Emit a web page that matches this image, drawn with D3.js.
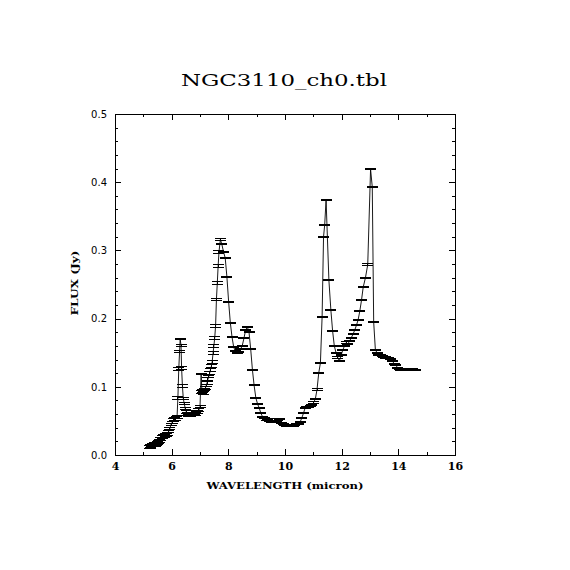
<!DOCTYPE html>
<html>
<head>
<meta charset="utf-8">
<script src="https://cdn.jsdelivr.net/npm/d3@7"></script>
<style>
	body { margin:0; background:#ffffff; }
	svg { display:block; }
</style>
</head>
<body>
<div id="chart"></div>
<script>
	// spectrum: wavelength (micron), flux (Jy), 1-sigma error (Jy)
	var wavelength = [
		5.21,5.24,5.27,5.30,5.33,5.36,5.39,5.42,5.45,5.48,5.51,5.54,5.58,5.62,5.66,5.70,5.74,5.78,5.82,5.86,
		5.90,5.94,5.98,6.02,6.06,6.10,6.13,6.16,6.19,6.22,6.25,6.28,6.30,6.33,6.35,6.38,6.41,6.44,6.48,6.52,
		6.56,6.60,6.64,6.68,6.72,6.76,6.80,6.84,6.88,6.92,6.96,7.00,7.04,7.07,7.10,7.13,7.16,7.19,7.22,7.25,
		7.28,7.31,7.34,7.37,7.40,7.43,7.46,7.49,7.52,7.55,7.58,7.61,7.64,7.67,7.72,7.77,
		7.83,7.89,7.95,8.01,8.07,8.13,8.19,8.25,8.31,8.37,8.43,8.49,8.55,8.61,8.67,8.73,8.79,8.85,8.91,8.97,
		9.03,9.09,9.15,9.21,9.27,9.33,9.39,9.45,9.51,9.57,9.63,9.69,9.75,9.81,9.87,9.93,9.99,10.05,10.11,10.17,
		10.23,10.29,10.35,10.41,10.47,10.53,10.59,10.65,10.71,10.77,10.83,10.89,10.95,11.01,11.07,11.13,11.19,11.25,11.31,11.36,
		11.40,11.45,11.55,11.62,11.68,11.74,11.80,11.86,11.92,11.98,12.04,12.10,12.16,12.22,12.28,12.34,12.40,12.46,12.52,12.58,
		12.64,12.70,12.76,12.84,12.92,13.02,13.08,13.13,13.19,13.25,13.31,13.37,13.43,13.49,13.55,13.61,13.67,13.73,13.79,13.85,
		13.91,13.97,14.03,14.09,14.15,14.21,14.27,14.33,14.39,14.45,14.51,14.57,14.62
	];
	var flux = [
		0.012,0.013,0.012,0.014,0.015,0.014,0.016,0.015,0.017,0.016,0.018,0.019,0.021,0.024,0.026,0.028,0.028,0.029,0.029,0.031,
		0.035,0.039,0.045,0.048,0.051,0.053,0.052,0.055,0.056,0.084,0.126,0.152,0.170,0.161,0.128,0.101,0.083,0.076,0.068,0.063,
		0.060,0.058,0.059,0.058,0.060,0.059,0.061,0.060,0.062,0.063,0.066,0.071,0.119,0.092,0.094,0.091,0.096,0.098,0.102,0.106,
		0.111,0.115,0.120,0.125,0.130,0.137,0.149,0.160,0.172,0.189,0.228,0.252,0.277,0.298,0.316,0.309,
		0.298,0.289,0.261,0.225,0.194,0.173,0.158,0.152,0.150,0.151,0.155,0.160,0.171,0.183,0.188,0.180,0.155,0.125,0.102,0.084,
		0.075,0.069,0.061,0.056,0.054,0.052,0.051,0.050,0.049,0.049,0.048,0.050,0.052,0.053,0.047,0.045,0.044,0.043,0.043,0.042,
		0.043,0.043,0.044,0.045,0.046,0.048,0.054,0.061,0.069,0.070,0.071,0.072,0.073,0.077,0.082,0.096,0.120,0.135,0.203,0.320,
		0.337,0.374,0.256,0.212,0.182,0.160,0.150,0.143,0.138,0.146,0.154,0.160,0.165,0.163,0.167,0.172,0.177,0.183,0.190,0.198,
		0.211,0.227,0.246,0.260,0.279,0.419,0.393,0.195,0.154,0.150,0.147,0.146,0.145,0.144,0.143,0.142,0.142,0.141,0.138,0.134,
		0.132,0.128,0.126,0.124,0.124,0.125,0.126,0.126,0.126,0.125,0.126,0.125,0.125
	];
	var fluxErr = [
		0.0022,0.0021,0.0022,0.0021,0.0022,0.0020,0.0021,0.0022,0.0020,0.0021,0.0020,0.0021,0.0020,0.0021,0.0020,0.0021,0.0020,0.0021,0.0020,0.0021,
		0.0016,0.0017,0.0016,0.0017,0.0018,0.0017,0.0018,0.0017,0.0018,0.0020,0.0021,0.0012,0.0010,0.0012,0.0021,0.0019,0.0018,0.0017,0.0018,0.0017,
		0.0018,0.0017,0.0018,0.0017,0.0018,0.0017,0.0018,0.0017,0.0018,0.0017,0.0018,0.0019,0.0012,0.0020,0.0019,0.0020,0.0019,0.0020,0.0021,0.0020,
		0.0021,0.0020,0.0021,0.0022,0.0021,0.0022,0.0021,0.0022,0.0021,0.0022,0.0021,0.0022,0.0021,0.0021,0.0020,0.0008,
		0.0009,0.0008,0.0008,0.0008,0.0008,0.0008,0.0008,0.0008,0.0009,0.0008,0.0008,0.0008,0.0008,0.0009,0.0008,0.0008,0.0008,0.0008,0.0008,0.0008,
		0.0008,0.0008,0.0008,0.0008,0.0008,0.0008,0.0008,0.0008,0.0008,0.0008,0.0008,0.0008,0.0008,0.0008,0.0008,0.0008,0.0008,0.0008,0.0008,0.0008,
		0.0008,0.0008,0.0008,0.0008,0.0008,0.0008,0.0008,0.0008,0.0008,0.0008,0.0008,0.0008,0.0008,0.0008,0.0008,0.0008,0.0008,0.0008,0.0008,0.0008,
		0.0009,0.0008,0.0008,0.0008,0.0008,0.0008,0.0008,0.0008,0.0008,0.0008,0.0008,0.0008,0.0008,0.0008,0.0008,0.0008,0.0008,0.0008,0.0008,0.0008,
		0.0008,0.0008,0.0008,0.0008,0.0013,0.0008,0.0008,0.0008,0.0008,0.0008,0.0008,0.0008,0.0008,0.0008,0.0008,0.0008,0.0008,0.0008,0.0008,0.0008,
		0.0008,0.0008,0.0008,0.0008,0.0008,0.0008,0.0008,0.0008,0.0008,0.0008,0.0008,0.0008,0.0008
	];

	var xMajor = [4, 6, 8, 10, 12, 14, 16];
	var xMinor = [5, 7, 9, 11, 13, 15];
	var yMajor = [0, 0.1, 0.2, 0.3, 0.4, 0.5];
	var yMinor = [0.02,0.04,0.06,0.08,0.12,0.14,0.16,0.18,0.22,0.24,0.26,0.28,0.32,0.34,0.36,0.38,0.42,0.44,0.46,0.48];

	var titleText = "NGC3110_ch0.tbl";
	var xTitle = "WAVELENGTH (micron)";
	var yTitle = "FLUX (Jy)";

	var W = 570, H = 570;
	// plot box (window.top is read-only, so no bare "top" here)
	var boxL = 115, boxR = 455, boxT = 114, boxB = 455;
	var capHalf = 5.5;

	var svg = d3.select("#chart").append("svg")
		.attr("width", W)
		.attr("height", H);
	svg.append("rect").attr("width", W).attr("height", H).attr("fill", "#ffffff");

	var x = d3.scaleLinear().domain([4, 16]).range([boxL, boxR]);
	var y = d3.scaleLinear().domain([0, 0.5]).range([boxB, boxT]);

	function styleAxis(g)
	{
		g.select(".domain").remove();
		g.selectAll(".tick line").attr("stroke", "#000").attr("stroke-width", 1).attr("shape-rendering", "crispEdges");
	}

	// minor ticks first, all four sides
	svg.append("g").attr("transform", "translate(0," + boxB + ")")
		.call(d3.axisBottom(x).tickValues(xMinor).tickSize(-3).tickFormat(""))
		.call(styleAxis);
	svg.append("g").attr("transform", "translate(0," + boxT + ")")
		.call(d3.axisTop(x).tickValues(xMinor).tickSize(-3).tickFormat(""))
		.call(styleAxis);
	svg.append("g").attr("transform", "translate(" + boxL + ",0)")
		.call(d3.axisLeft(y).tickValues(yMinor).tickSize(-3).tickFormat(""))
		.call(styleAxis);
	svg.append("g").attr("transform", "translate(" + boxR + ",0)")
		.call(d3.axisRight(y).tickValues(yMinor).tickSize(-3).tickFormat(""))
		.call(styleAxis);

	// major ticks + labels
	var xb = svg.append("g").attr("transform", "translate(0," + boxB + ")")
		.call(d3.axisBottom(x).tickValues(xMajor).tickSize(-6).tickPadding(7).tickFormat(d3.format("d")))
		.call(styleAxis);
	xb.selectAll(".tick text")
		.attr("fill", "#000")
		.attr("font-family", "'DejaVu Serif', serif")
		.attr("font-weight", "bold")
		.attr("font-size", "11px");
	svg.append("g").attr("transform", "translate(0," + boxT + ")")
		.call(d3.axisTop(x).tickValues(xMajor).tickSize(-6).tickFormat(""))
		.call(styleAxis);

	var yl = svg.append("g").attr("transform", "translate(" + boxL + ",0)")
		.call(d3.axisLeft(y).tickValues(yMajor).tickSize(-6).tickPadding(8).tickFormat(d3.format(".1f")))
		.call(styleAxis);
	yl.selectAll(".tick text")
		.attr("fill", "#000")
		.attr("font-family", "'DejaVu Sans', sans-serif")
		.attr("font-size", "10px");
	svg.append("g").attr("transform", "translate(" + boxR + ",0)")
		.call(d3.axisRight(y).tickValues(yMajor).tickSize(-6).tickFormat(""))
		.call(styleAxis);

	// frame
	svg.append("rect")
		.attr("x", boxL).attr("y", boxT)
		.attr("width", boxR - boxL).attr("height", boxB - boxT)
		.attr("fill", "none").attr("stroke", "#000").attr("stroke-width", 1)
		.attr("shape-rendering", "crispEdges");

	var pts = wavelength.map(function(w, i){
		return { w: w, f: flux[i], e: fluxErr[i] };
	});

	// connecting line
	var line = d3.line()
		.x(function(d){ return x(d.w); })
		.y(function(d){ return y(d.f); });
	svg.append("path")
		.datum(pts)
		.attr("d", line)
		.attr("fill", "none")
		.attr("stroke", "#000")
		.attr("stroke-width", 0.9);

	// error bars
	var eb = svg.append("g").attr("class", "errbars")
		.attr("stroke", "#000").attr("stroke-width", 1).attr("shape-rendering", "crispEdges");
	var bar = eb.selectAll("g").data(pts).enter().append("g");
	bar.append("line")
		.attr("x1", function(d){ return x(d.w); })
		.attr("x2", function(d){ return x(d.w); })
		.attr("y1", function(d){ return y(d.f - d.e); })
		.attr("y2", function(d){ return y(d.f + d.e); });
	bar.append("line")
		.attr("x1", function(d){ return x(d.w) - capHalf; })
		.attr("x2", function(d){ return x(d.w) + capHalf; })
		.attr("y1", function(d){ return y(d.f + d.e); })
		.attr("y2", function(d){ return y(d.f + d.e); });
	bar.append("line")
		.attr("x1", function(d){ return x(d.w) - capHalf; })
		.attr("x2", function(d){ return x(d.w) + capHalf; })
		.attr("y1", function(d){ return y(d.f - d.e); })
		.attr("y2", function(d){ return y(d.f - d.e); });

	// titles
	svg.append("text")
		.attr("x", 284).attr("y", 86)
		.attr("text-anchor", "middle")
		.attr("font-family", "'DejaVu Serif', serif")
		.attr("font-size", "17px")
		.attr("textLength", 206)
		.attr("lengthAdjust", "spacingAndGlyphs")
		.attr("fill", "#000")
		.text(titleText);

	svg.append("text")
		.attr("x", 285).attr("y", 489)
		.attr("text-anchor", "middle")
		.attr("font-family", "'DejaVu Serif', serif")
		.attr("font-weight", "bold")
		.attr("font-size", "10px")
		.attr("textLength", 157)
		.attr("lengthAdjust", "spacingAndGlyphs")
		.attr("fill", "#000")
		.text(xTitle);

	svg.append("text")
		.attr("transform", "translate(78,283) rotate(-90)")
		.attr("text-anchor", "middle")
		.attr("font-family", "'DejaVu Serif', serif")
		.attr("font-weight", "bold")
		.attr("font-size", "10px")
		.attr("textLength", 65)
		.attr("lengthAdjust", "spacingAndGlyphs")
		.attr("fill", "#000")
		.text(yTitle);
</script>
</body>
</html>
